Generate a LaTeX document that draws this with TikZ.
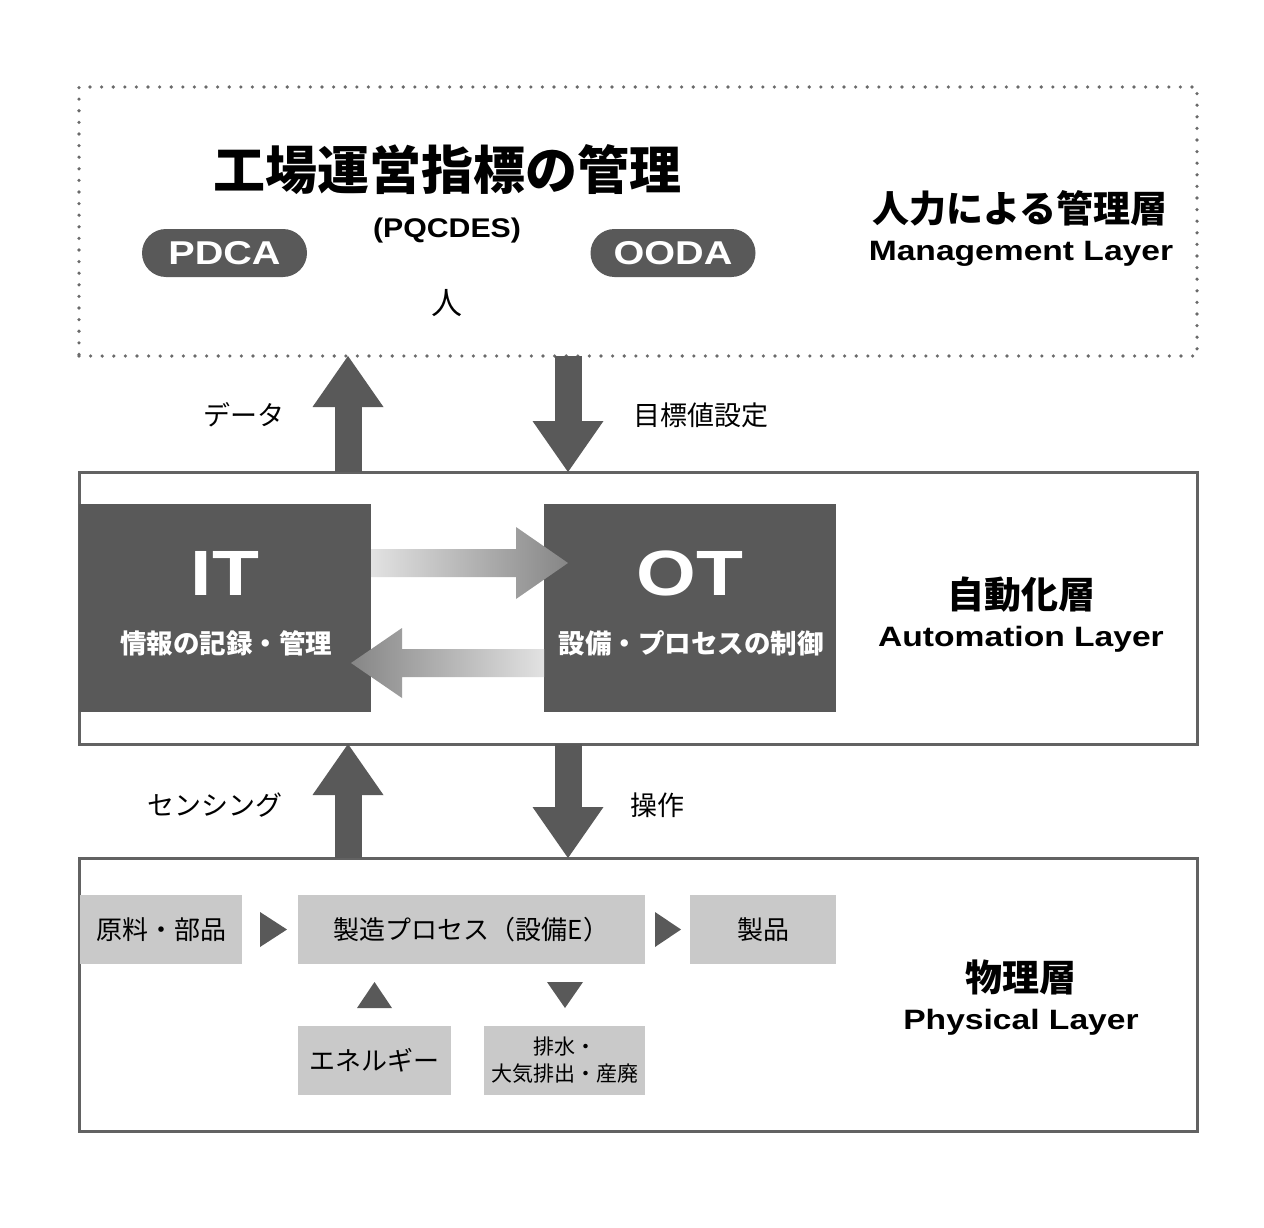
\documentclass[tikz,border=0pt]{standalone}
\usepackage{fontspec}
\setmainfont{Liberation Sans}
\newfontfamily\jp{Noto Sans CJK JP}
\usetikzlibrary{arrows.meta,calc}
\definecolor{dk}{HTML}{595959}
\definecolor{lt}{HTML}{C9C9C9}
\definecolor{bd}{HTML}{626262}
\definecolor{dotc}{HTML}{6A6A6A}
\definecolor{glight}{HTML}{E2E2E2}
\definecolor{gdark}{HTML}{868686}
\newcommand{\fsz}[1]{\fontsize{#1}{#1}\selectfont}
\newcommand{\widetxt}[1]{\scalebox{1.2}[1]{#1}}
\begin{document}
\begin{tikzpicture}[x=1pt,y=-1pt,
  every node/.style={inner sep=0pt,outer sep=0pt},
  layerbox/.style={draw=bd,line width=3pt,minimum width=1118pt,rectangle},
  dotbox/.style={draw=dotc,line width=3.6pt,dash pattern=on 0pt off 11.6pt,line cap=round,minimum width=1118pt,minimum height=269pt},
  darkbox/.style={fill=dk,minimum width=292pt,minimum height=208pt},
  pill/.style={fill=dk,rounded corners=24pt,minimum width=165pt,minimum height=48pt,text=white,font=\bfseries\fsz{33}},
  graybox/.style={fill=lt,minimum height=69pt,font=\jp\fsz{26}},
  jplbl/.style={font=\jp\fsz{27}},
  jphead/.style={font=\jp\bfseries\fsz{37}},
  enlbl/.style={font=\bfseries\fsz{28},text height=20pt,text depth=0pt},
  fat/.style={draw=dk,line width=27pt,-{Triangle[length=51pt,width=71pt,line width=0pt]}},
  tri/.style={fill=dk}]
\useasboundingbox (0,0) rectangle (1264,1228);
\fill[white] (0,0) rectangle (1264,1228);

% layers
\node[dotbox] (mgmt) at (638,221.5) {};
\node[layerbox,minimum height=272pt] (auto) at (638,608) {};
\node[layerbox,minimum height=273pt] (phys) at (638,994.5) {};

% management layer content
\node[font=\jp\bfseries\fsz{52}] (title) at (447,170) {工場運営指標の管理};
\node[font=\bfseries\fsz{27},text height=19.5pt,text depth=0pt] (pq) at (447,228) {\scalebox{1.12}[1]{(PQCDES)}};
\node[pill,text height=23.5pt,text depth=0pt] (pdca) at (224.5,253) {\widetxt{PDCA}};
\node[pill,text height=23.5pt,text depth=0pt] (ooda) at (673,253) {\widetxt{OODA}};
\node[font=\jp\fsz{31}] (hito) at (447,303) {人};
\node[jphead] (mh) at (1020,208) {人力による管理層};
\node[enlbl] (me) at (1021,250) {\widetxt{Management Layer}};

% automation layer content
\node[darkbox] (it) at (225,608) {};
\node[darkbox] (ot) at (690,608) {};
\node[font=\bfseries\fsz{64},text=white,text height=46pt,text depth=0pt] (itt) at (225,572) {\widetxt{IT}};
\node[font=\bfseries\fsz{64},text=white,text height=46pt,text depth=0pt] (ott) at (690,572) {\widetxt{OT}};
\node[font=\jp\bfseries\fsz{26.5},text=white] (its) at (226,643) {情報の記録・管理};
\node[font=\jp\bfseries\fsz{26.5},text=white] (ots) at (691,643) {設備・プロセスの制御};
\node[jphead] (ah) at (1021,595) {自動化層};
\node[enlbl] (ae) at (1021,636) {\widetxt{Automation Layer}};

% gradient arrows between IT and OT
\shade[left color=glight,right color=gdark]
  (it.east |- 0,549) -- (516,549) -- (516,527) -- (568,563) -- (516,599) -- (516,577) -- (it.east |- 0,577) -- cycle;
\shade[left color=gdark,right color=glight]
  (ot.west |- 0,649) -- (402,649) -- (402,628) -- (351,663) -- (402,698) -- (402,677) -- (ot.west |- 0,677) -- cycle;

% vertical arrows
\coordinate (ux) at (348,0);
\coordinate (dx) at (568,0);
\draw[fat] (auto.north -| ux) -- (mgmt.south -| ux);
\draw[fat] (mgmt.south -| dx) -- (auto.north -| dx);
\draw[fat] (phys.north -| ux) -- (auto.south -| ux);
\draw[fat] (auto.south -| dx) -- (phys.north -| dx);
\node[jplbl] (l1) at (244,415) {データ};
\node[jplbl] (l2) at (701,415) {目標値設定};
\node[jplbl] (l3) at (215,805) {センシング};
\node[jplbl] (l4) at (657,805) {操作};

% physical layer content
\node[graybox,minimum width=162pt] (raw) at (161,929.5) {原料・部品};
\node[graybox,minimum width=347pt] (proc) at (471.5,929.5) {製造プロセス（設備E）};
\node[graybox,minimum width=146pt] (prod) at (763,929.5) {製品};
\node[graybox,minimum width=153pt] (ener) at (374.5,1060.5) {エネルギー};
\node[graybox,minimum width=161pt,font=\jp\fsz{21},align=center] (waste) at (564.5,1060.5) {排水・\\[6pt]大気排出・産廃};
\fill[tri] (260,912) -- (287,929.5) -- (260,947) -- cycle;
\fill[tri] (655,912) -- (681,929.5) -- (655,947) -- cycle;
\fill[tri] (357,1008) -- (374.5,982) -- (392,1008) -- cycle;
\fill[tri] (547,982) -- (565,1008) -- (583,982) -- cycle;
\node[jphead] (ph) at (1021,977) {物理層};
\node[enlbl] (pe) at (1021,1019) {\widetxt{Physical Layer}};
\end{tikzpicture}
\end{document}
